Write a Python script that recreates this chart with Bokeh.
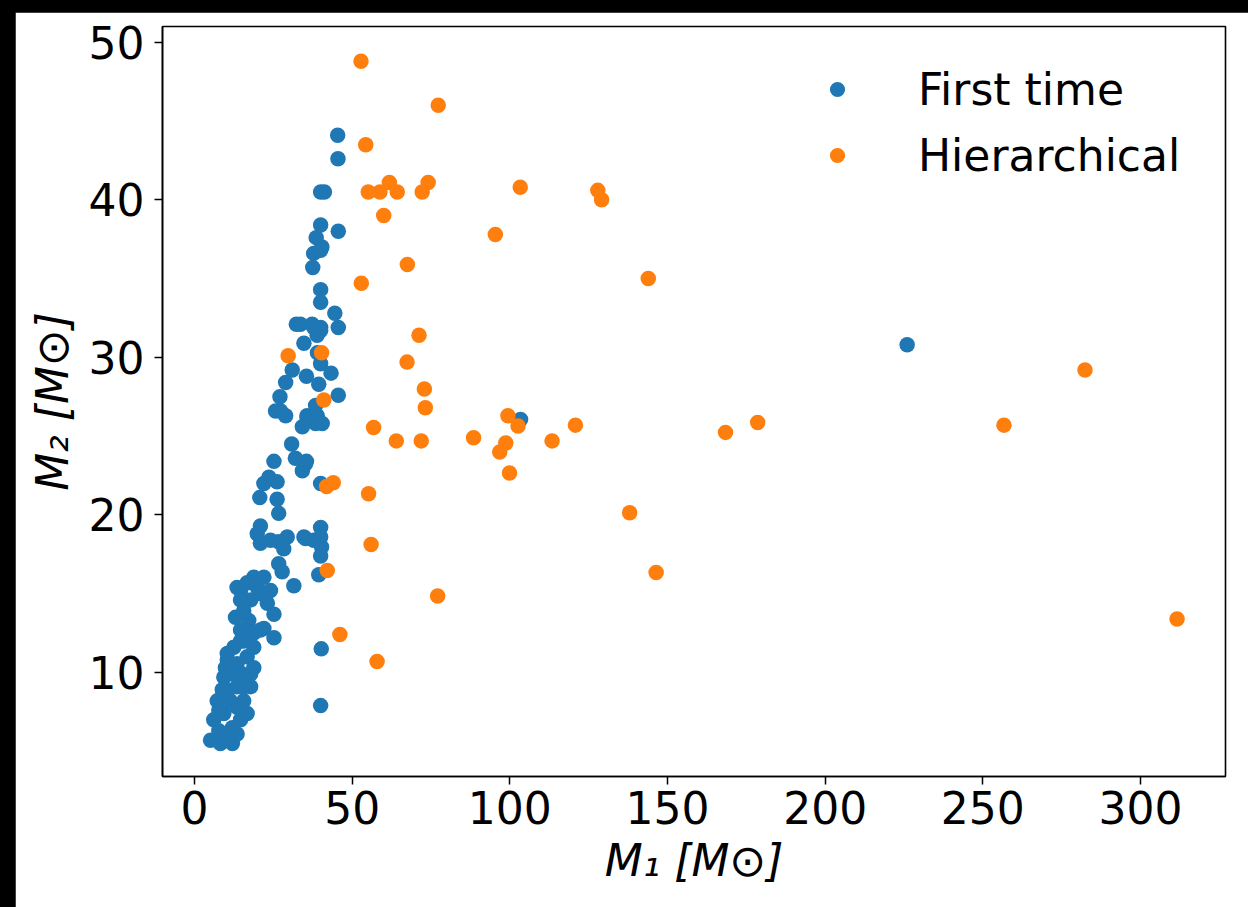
from bokeh.plotting import figure
from bokeh.embed import file_html
from bokeh.resources import INLINE
from bokeh.models import Range1d, FixedTicker, Legend, LegendItem

# ---- data ----
first_m1 = [45.4, 45.5, 40.0, 41.2, 40.0, 45.6, 38.6, 40.4, 37.8, 40.0, 37.5, 40.0, 40.0, 44.5,
            32.3, 33.6, 37.3, 40.0, 45.6, 38.9, 34.7, 40.0, 37.8, 39.0, 40.0, 43.3, 31.0, 35.5,
            28.9, 39.4, 45.6, 27.1, 25.7, 27.3, 28.9, 38.4, 35.7, 38.9, 35.7, 38.4, 40.5, 34.2,
            30.8, 25.2, 32.0, 35.5, 34.2, 35.2, 23.6, 26.2, 22.0, 40.0, 20.7, 26.2, 26.7, 20.9,
            19.9, 20.9, 24.1, 26.7, 29.4, 28.3, 34.7, 35.2, 37.8, 40.0, 40.0, 40.3, 40.0, 26.7,
            27.8, 39.4, 31.5, 14.6, 18.8, 22.0, 17.8, 20.9, 24.1, 23.1, 14.6, 25.2, 13.0, 14.6,
            17.2, 20.9, 22.0, 25.2, 18.8, 15.6, 12.5, 10.4, 13.5, 16.7, 18.8, 17.8, 9.3, 10.4,
            13.5, 15.6, 16.7, 14.6, 12.0, 9.3, 7.2, 6.1, 5.1, 8.2, 12.0, 13.5, 7.7, 10.4, 8.8,
            7.7, 11.4, 13.5, 9.8, 12.0, 15.1, 15.6, 10.4, 14.6, 17.8, 18.8, 13.5, 16.7, 19.9,
            15.6, 40.2, 40.0, 103.4, 226.0]
first_m2 = [44.1, 42.6, 40.5, 40.5, 38.4, 38.0, 37.6, 37.0, 36.6, 36.8, 35.7, 34.3, 33.5, 32.8,
            32.1, 32.1, 32.1, 31.9, 31.9, 31.4, 30.9, 31.7, 31.9, 30.3, 29.6, 29.0, 29.2, 28.8,
            28.4, 28.3, 27.6, 27.5, 26.6, 26.6, 26.3, 26.95, 26.3, 26.3, 26.2, 25.8, 25.8, 25.6,
            24.5, 23.4, 23.6, 23.4, 22.8, 23.25, 22.4, 22.1, 22.0, 22.0, 21.1, 21.0, 20.1, 19.3,
            18.8, 18.2, 18.4, 18.3, 18.6, 17.85, 18.6, 18.5, 18.4, 19.2, 18.6, 17.96, 17.4, 16.9,
            16.4, 16.2, 15.5, 15.2, 16.05, 16.05, 14.6, 15.0, 15.2, 14.4, 14.6, 13.7, 13.5, 12.7,
            13.3, 12.7, 12.8, 12.2, 11.6, 12.0, 11.6, 10.8, 10.55, 11.0, 10.3, 9.1, 9.7, 8.9,
            9.1, 8.2, 7.4, 7.0, 6.5, 7.4, 8.2, 7.0, 5.7, 5.5, 5.5, 6.1, 6.3, 5.9, 8.9,
            7.6, 8.2, 7.8, 10.3, 9.9, 9.9, 9.1, 11.2, 12.0, 9.9, 12.5, 15.4, 15.7, 15.4,
            13.9, 11.5, 7.9, 26.06, 30.8]

hier_m1 = [52.8, 77.3, 54.3, 55.1, 58.8, 61.8, 64.3, 72.2, 74.1, 103.3, 127.9, 129.1, 60.0, 95.4,
           67.5, 52.9, 143.9, 71.2, 67.4, 40.3, 29.7, 41.0, 72.9, 73.2, 99.4, 102.6, 120.8, 56.8,
           64.0, 71.9, 88.5, 113.4, 98.7, 96.8, 99.9, 44.0, 41.9, 55.2, 138.0, 56.0, 42.1, 146.4,
           77.1, 46.1, 57.9, 168.4, 178.6, 256.7, 282.4, 311.6]
hier_m2 = [48.8, 46.0, 43.5, 40.5, 40.5, 41.1, 40.5, 40.5, 41.1, 40.8, 40.6, 40.0, 39.0, 37.8,
           35.9, 34.7, 35.0, 31.4, 29.7, 30.3, 30.1, 27.3, 28.0, 26.8, 26.3, 25.65, 25.7, 25.55,
           24.7, 24.7, 24.9, 24.7, 24.57, 24.0, 22.66, 22.04, 21.8, 21.35, 20.14, 18.13, 16.48, 16.35,
           14.85, 12.41, 10.70, 25.24, 25.87, 25.7, 29.2, 13.4]

x_ticks = [0, 50, 100, 150, 200, 250, 300]
y_ticks = [10, 20, 30, 40, 50]
series_names = ["First time", "Hierarchical"]
series_colors = ["#1f77b4", "#ff7f0e"]

FONT = "DejaVu Sans"

p = figure(width=1233, height=895, output_backend="svg", toolbar_location=None,
           x_range=Range1d(-10.15, 326.96), y_range=Range1d(3.40, 51.0),
           min_border_left=147, min_border_right=23, min_border_top=14, min_border_bottom=131)
p.border_fill_color = "white"
p.background_fill_color = "white"
p.outline_line_color = "black"
p.outline_line_width = 1.6
p.xgrid.visible = False
p.ygrid.visible = False
p.styles = {"margin-left": "15px", "margin-top": "12px"}

r1 = p.scatter(first_m1, first_m2, size=15.5, fill_color=series_colors[0], line_color=None)
r2 = p.scatter(hier_m1, hier_m2, size=15.5, fill_color=series_colors[1], line_color=None)

for ax, ticks in ((p.xaxis[0], x_ticks), (p.yaxis[0], y_ticks)):
    ax.ticker = FixedTicker(ticks=ticks)
    ax.minor_tick_line_color = None
    ax.major_tick_out = 8
    ax.major_tick_in = 0
    ax.major_tick_line_color = "black"
    ax.major_tick_line_width = 1.5
    ax.axis_line_color = "black"
    ax.axis_line_width = 1.6
    ax.major_label_text_font = FONT
    ax.major_label_text_font_size = "44px"
    ax.major_label_text_color = "black"
    ax.axis_label_text_font = FONT
    ax.axis_label_text_font_size = "44px"
    ax.axis_label_text_font_style = "italic"
    ax.axis_label_text_color = "black"

p.xaxis[0].axis_label = "M\u2081 [M\u2299]"
p.yaxis[0].axis_label = "M\u2082 [M\u2299]"
p.xaxis[0].major_label_standoff = 6
p.yaxis[0].major_label_standoff = 10
p.xaxis[0].axis_label_standoff = 8
p.yaxis[0].axis_label_standoff = 8

legend = Legend(items=[LegendItem(label=series_names[0], renderers=[r1]),
                       LegendItem(label=series_names[1], renderers=[r2])],
                location=(656, 595))
legend.border_line_color = None
legend.background_fill_alpha = 0
legend.padding = 0
legend.margin = 0
legend.glyph_width = 38
legend.glyph_height = 52
legend.label_height = 52
legend.spacing = 14
legend.label_standoff = 62
legend.label_text_font = FONT
legend.label_text_font_size = "44px"
legend.label_text_color = "black"
p.add_layout(legend, "center")

html = file_html(p, INLINE, title="M1 vs M2")
html = html.replace("<head>", "<head><style>html,body{margin:0 !important;padding:0 !important;background:#000 !important;}</style>", 1)
open("out.html", "w").write(html)
